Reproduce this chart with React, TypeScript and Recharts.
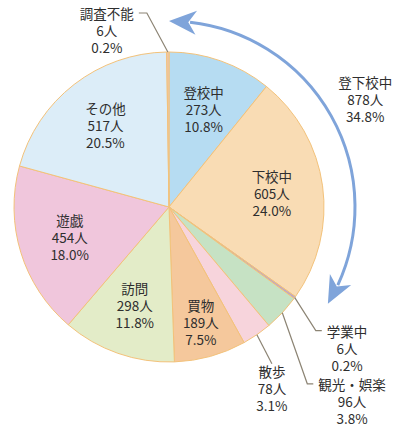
import React from 'react';
import { PieChart, Pie, Cell, Customized } from 'recharts';

const categories = ['登校中', '下校中', '学業中', '観光・娯楽', '散歩', '買物', '訪問', '遊戯', 'その他', '調査不能'];
const counts = [273, 605, 6, 96, 78, 189, 298, 454, 517, 6];
const percents = ['10.8%', '24.0%', '0.2%', '3.8%', '3.1%', '7.5%', '11.8%', '18.0%', '20.5%', '0.2%'];
const sliceColors = ['#b6dcf2', '#f9dcb4', '#b9a5cd', '#c6e2c4', '#f7d4dc', '#f5c89c', '#e3ecc8', '#f0c6dc', '#dcedf8', '#eec6b0'];
const groupMembers = ['登校中', '下校中'];
const groupLabel = ['登下校中', '878人', '34.8%'];

const total = counts.reduce((a, b) => a + b, 0);
const data = categories.map((name, i) => ({ name, value: counts[i] }));

const W = 400;
const H = 432;
const CX = 169;
const CY = 207;
const R = 155;
const ARC_R = 186;
const LINE = 17;
const FONT = '"Noto Sans CJK JP", "Noto Sans", sans-serif';
const FS = 13.5;
const TEXT = '#2e2e2e';
const LEADER = '#8c8474';
const ARROW = '#7fa4da';
const RAD = Math.PI / 180;

const callouts: Record<string, { dx: number; dy: number; tail: number }> = {
  '学業中': { dx: 21, dy: 33, tail: 6 },
  '観光・娯楽': { dx: 25, dy: 71, tail: 6 },
  '散歩': { dx: 15, dy: 29, tail: 0 },
  '調査不能': { dx: -21, dy: -39, tail: -8 },
};

const TextBlock = ({ x, y, lines }: { x: number; y: number; lines: string[] }) => (
  <text
    x={x}
    y={y}
    textAnchor="middle"
    dominantBaseline="central"
    fontFamily={FONT}
    fontSize={FS}
    fill={TEXT}
  >
    {lines.map((t, i) => (
      <tspan key={i} x={x} y={y + i * LINE}>
        {t}
      </tspan>
    ))}
  </text>
);

const renderLabel = (p: any) => {
  const { cx, cy, midAngle, outerRadius } = p;
  const name = p.name ?? p.payload?.name;
  const idx = categories.indexOf(name);
  const lines = [name, `${counts[idx]}人`, percents[idx]];
  const pct = counts[idx] / total;
  const c = Math.cos(-midAngle * RAD);
  const s = Math.sin(-midAngle * RAD);
  if (pct >= 0.05) {
    const r = outerRadius * (pct < 0.1 ? 0.77 : 0.67);
    return <TextBlock key={name} x={cx + r * c} y={cy + r * s - LINE} lines={lines} />;
  }
  const lay = callouts[name];
  const ex = cx + outerRadius * c;
  const ey = cy + outerRadius * s;
  const bx = ex + lay.dx;
  const by = ey + lay.dy;
  const tx = bx + lay.tail;
  let blockX = bx;
  let blockY = by + 7;
  if (lay.tail !== 0) {
    const w = name.length * FS;
    blockX = tx + Math.sign(lay.tail) * (5 + w / 2);
    blockY = by;
  }
  return (
    <g key={name}>
      <polyline points={`${ex},${ey} ${bx},${by} ${tx},${by}`} fill="none" stroke={LEADER} strokeWidth={1.2} />
      <TextBlock x={blockX} y={blockY} lines={lines} />
    </g>
  );
};

const pt = (deg: number, r: number) => ({ x: CX + r * Math.cos(deg * RAD), y: CY - r * Math.sin(deg * RAD) });

const arrowHead = (tipDeg: number, backDeg: number) => {
  const T = pt(tipDeg, ARC_R);
  const B = pt(backDeg, ARC_R);
  let dx = T.x - B.x;
  let dy = T.y - B.y;
  const len = Math.hypot(dx, dy);
  dx /= len;
  dy /= len;
  const nx = -dy;
  const ny = dx;
  const w1 = { x: B.x + nx * 12 - dx * 3, y: B.y + ny * 12 - dy * 3 };
  const w2 = { x: B.x - nx * 12 - dx * 3, y: B.y - ny * 12 - dy * 3 };
  const notch = { x: B.x + dx * 5, y: B.y + dy * 5 };
  return `M${T.x},${T.y} L${w1.x},${w1.y} L${notch.x},${notch.y} L${w2.x},${w2.y} Z`;
};

const GroupArrow = () => {
  const groupSum = counts.filter((_, i) => groupMembers.includes(categories[i])).reduce((a, b) => a + b, 0);
  const startTip = 90;
  const endTip = 90 - (groupSum / total) * 360 + 4;
  const headDeg = 7.5;
  const a0 = startTip - headDeg + 1;
  const a1 = endTip + headDeg - 1;
  const P0 = pt(a0, ARC_R);
  const P1 = pt(a1, ARC_R);
  const mid = (startTip + endTip) / 2;
  const L = pt(mid - 0.5, ARC_R + 38);
  return (
    <g>
      <path
        d={`M${P0.x},${P0.y} A${ARC_R},${ARC_R} 0 0 1 ${P1.x},${P1.y}`}
        fill="none"
        stroke={ARROW}
        strokeWidth={3}
      />
      <path d={arrowHead(startTip, startTip - headDeg)} fill={ARROW} />
      <path d={arrowHead(endTip, endTip + headDeg)} fill={ARROW} />
      <TextBlock x={L.x} y={L.y - LINE} lines={groupLabel} />
    </g>
  );
};

export default function App() {
  return (
    <div style={{ position: 'absolute', left: 0, top: 0, width: W, height: H, background: '#fff' }}>
      <PieChart width={W} height={H} margin={{ top: 0, right: 0, bottom: 0, left: 0 }}>
        <Pie
          data={data}
          dataKey="value"
          nameKey="name"
          cx={CX}
          cy={CY}
          outerRadius={R}
          startAngle={90}
          endAngle={-270}
          stroke="#f3c27a"
          strokeWidth={1}
          label={renderLabel}
          labelLine={false}
          isAnimationActive={false}
        >
          {data.map((d, i) => (
            <Cell key={d.name} fill={sliceColors[i]} />
          ))}
        </Pie>
        <Customized component={GroupArrow} />
      </PieChart>
    </div>
  );
}
